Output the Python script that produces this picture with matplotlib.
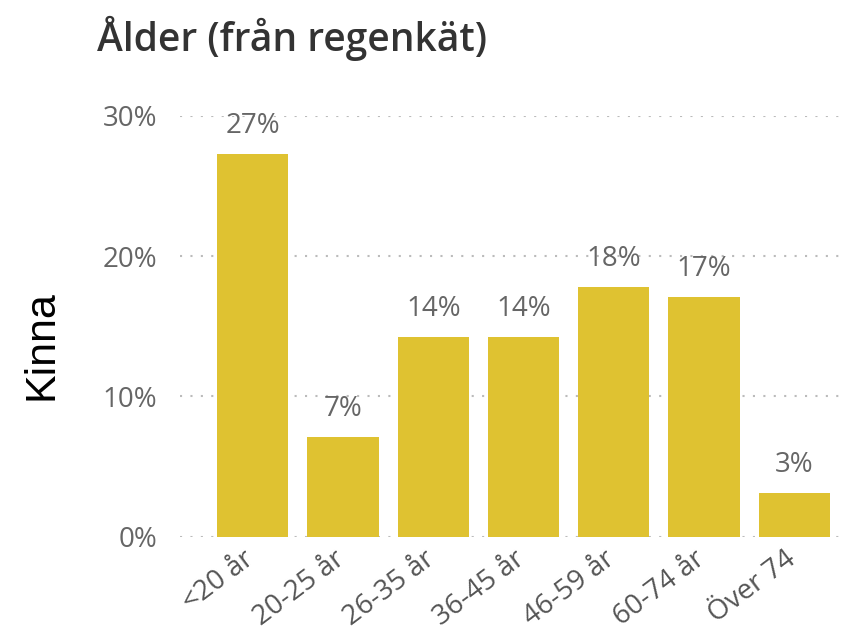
import matplotlib.pyplot as plt
from matplotlib.transforms import ScaledTranslation

categories = ['<20 år', '20-25 år', '26-35 år', '36-45 år', '46-59 år', '60-74 år', 'Över 74']
values = [27.3, 7.1, 14.2, 14.2, 17.8, 17.1, 3.1]
labels = ['27%', '7%', '14%', '14%', '18%', '17%', '3%']
yticks = [0, 10, 20, 30]

fig = plt.figure(figsize=(8.48, 6.36), dpi=100)
ax = fig.add_axes([0.212, 0.156, 0.783, 0.662])

x = range(len(categories))
ax.bar(x, values, width=0.79, color='#DFC231', zorder=2)
for i, (v, lab) in enumerate(zip(values, labels)):
    ax.text(i, v + 1.0, lab, ha='center', va='bottom', fontsize=20,
            color='#666666', family='Open Sans', clip_on=False)

ax.set_xlim(-0.81, 6.55)
ax.set_ylim(0, 30)
ax.set_yticks(yticks)
ax.set_yticklabels([f'{t}%' for t in yticks], fontsize=20, color='#666666', family='Open Sans')
ax.set_xticks(list(x))
ax.set_xticklabels(categories, rotation=37, ha='right', rotation_mode='anchor',
                   fontsize=20, color='#555555', family='Open Sans')
ax.tick_params(axis='y', length=0, pad=16)
ax.tick_params(axis='x', length=0, pad=6)
off = ScaledTranslation(-10 / 100, 0, fig.dpi_scale_trans)
for t in ax.get_xticklabels():
    t.set_transform(t.get_transform() + off)
ax.grid(axis='y', linestyle=(0, (1, 4)), color='#BBBBBB', linewidth=1.5, zorder=0)
for s in ax.spines.values():
    s.set_visible(False)

fig.text(41 / 848, 1 - 345 / 636, 'Kinna', fontsize=31, family='Liberation Sans',
         color='black', rotation=90, ha='center', va='center')
fig.text(0.114, 1 - 38 / 636, 'Ålder (från regenkät)', fontsize=28, color='#333333',
         family='Open Sans', weight='semibold', va='center', ha='left')

fig.savefig('out.png', dpi=100)
